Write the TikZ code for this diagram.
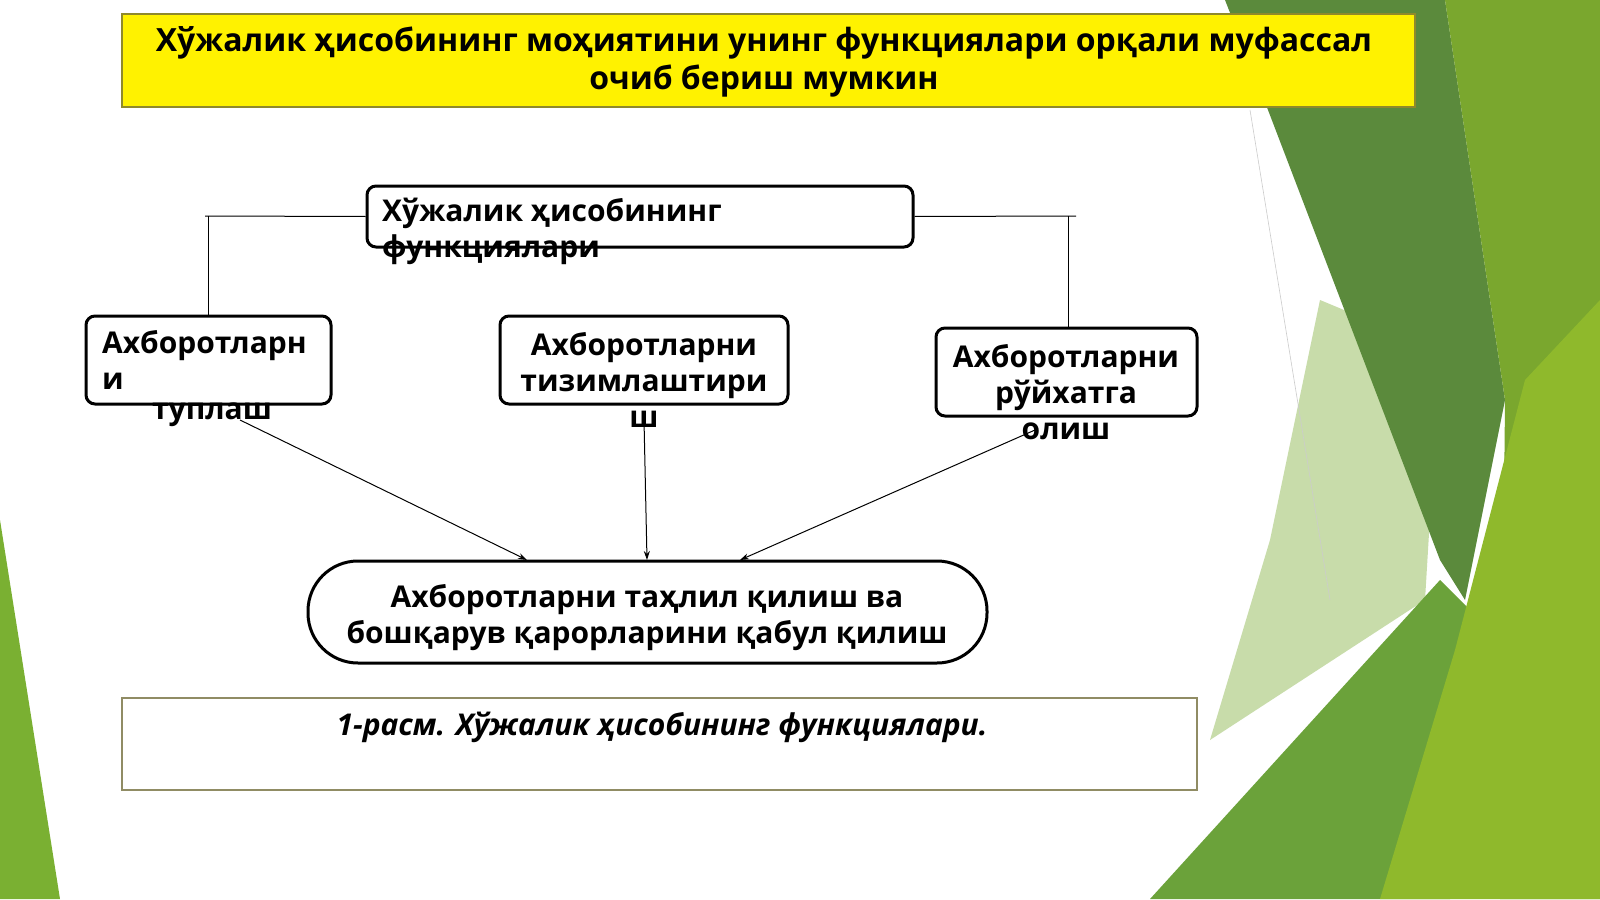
\documentclass[tikz,border=0pt]{standalone}
\usepackage{fontspec}
\setmainfont{Open Sans}
\usetikzlibrary{arrows.meta}
\begin{document}
\begin{tikzpicture}[x=1pt,y=-1pt,
  box/.style={draw=black,line width=3pt,rounded corners=9pt},
  txt/.style={inner sep=0pt,font=\fontsize{30}{36}\selectfont\bfseries},
  conn/.style={line width=1pt},
  arr/.style={line width=1pt,-{Stealth[length=9pt,width=6pt]}}]
\useasboundingbox (0,0) rectangle (1600,899);
\fill[white] (0,0) rectangle (1600,899);
% background
\fill[color={rgb,255:red,200;green,220;blue,170}] (1320,300)--(1440,350)--(1425,600)--(1210,740)--(1270,540)--cycle;
\fill[color={rgb,255:red,91;green,138;blue,60}] (1225,0)--(1445,0)--(1505,400)--(1465,600)--(1440,560)--(1268,110)--cycle;
\fill[color={rgb,255:red,122;green,167;blue,46}] (1445,0)--(1600,0)--(1600,899)--(1500,899)--(1505,400)--cycle;
\fill[color={rgb,255:red,107;green,162;blue,58}] (1150,899)--(1440,580)--(1470,610)--(1450,899)--cycle;
\fill[color={rgb,255:red,143;green,185;blue,44}] (1380,899)--(1455,650)--(1525,380)--(1600,300)--(1600,899)--cycle;
\fill[color={rgb,255:red,122;green,176;blue,50}] (0,520)--(60,899)--(0,899)--cycle;
\draw[gray!40,line width=.6pt] (1250,110)--(1330,600);
% title
\node[draw=olive!70!gray,line width=1.2pt,fill=yellow,minimum width=1293pt,minimum height=93pt,inner sep=0pt] (title) at (768.5,60.5) {};
\node[txt,align=center,font=\fontsize{32}{38}\selectfont\bfseries] (titletext) at (764,62) {Хўжалик ҳисобининг моҳиятини унинг функциялари орқали муфассал\\очиб бериш мумкин};
% top box
\node[box,minimum width=546pt,minimum height=61pt,inner sep=0pt] (top) at (640,216.5) {};
\node[txt,align=left,anchor=north west] (toptext) at (382,198) {Хўжалик ҳисобининг\\функциялари};
\coordinate (tl) at (205,216); \coordinate (tr) at (1076,216);
\coordinate (tlv) at (208,216); \coordinate (trv) at (1068,216);
% boxes
\node[box,minimum width=245pt,minimum height=88pt,inner sep=0pt] (b1) at (208.5,360) {};
\node[txt,align=left,anchor=north west] (b1a) at (102,330) {Ахборотларн\\и};
\node[txt] (b1b) at (212,415) {туплаш};
\node[box,minimum width=288pt,minimum height=88pt,inner sep=0pt] (b2) at (644,360) {};
\node[txt,align=center] (b2t) at (644,380) {Ахборотларни\\тизимлаштири\\ш};
\node[box,minimum width=261pt,minimum height=88pt,inner sep=0pt] (b3) at (1066.5,372) {};
\node[txt,align=center] (b3t) at (1066,392) {Ахборотларни\\рўйхатга\\олиш};
% bottom
\node[draw=black,line width=3pt,rounded corners=50pt,minimum width=679pt,minimum height=102pt,inner sep=0pt] (bot) at (647.5,612) {};
\node[txt,align=center] (bott) at (647,618) {Ахборотларни таҳлил қилиш ва\\бошқарув қарорларини қабул қилиш};
% caption
\node[draw=gray!70!olive,line width=1.2pt,minimum width=1075pt,minimum height=92pt,inner sep=0pt] (cap) at (659.5,744) {};
\node[txt,font=\fontsize{30}{36}\selectfont\bfseries\itshape] (capt) at (662,727) {1-расм. Хўжалик ҳисобининг функциялари.};
% connectors
\draw[conn] (tl) -- (top.west);
\draw[conn] (tlv) -- (b1.north -| tlv);
\draw[conn] (top.east) -- (tr);
\draw[conn] (trv) -- (b3.north -| trv);
\coordinate (s1) at (240,420); \coordinate (s2) at (644,420); \coordinate (s3) at (1035,430);
\coordinate (e1) at (527,560); \coordinate (e2) at (647,560); \coordinate (e3) at (740,560);
\draw[arr] (s1) -- (e1);
\draw[arr] (s2) -- (e2);
\draw[arr] (s3) -- (e3);
\end{tikzpicture}
\end{document}
